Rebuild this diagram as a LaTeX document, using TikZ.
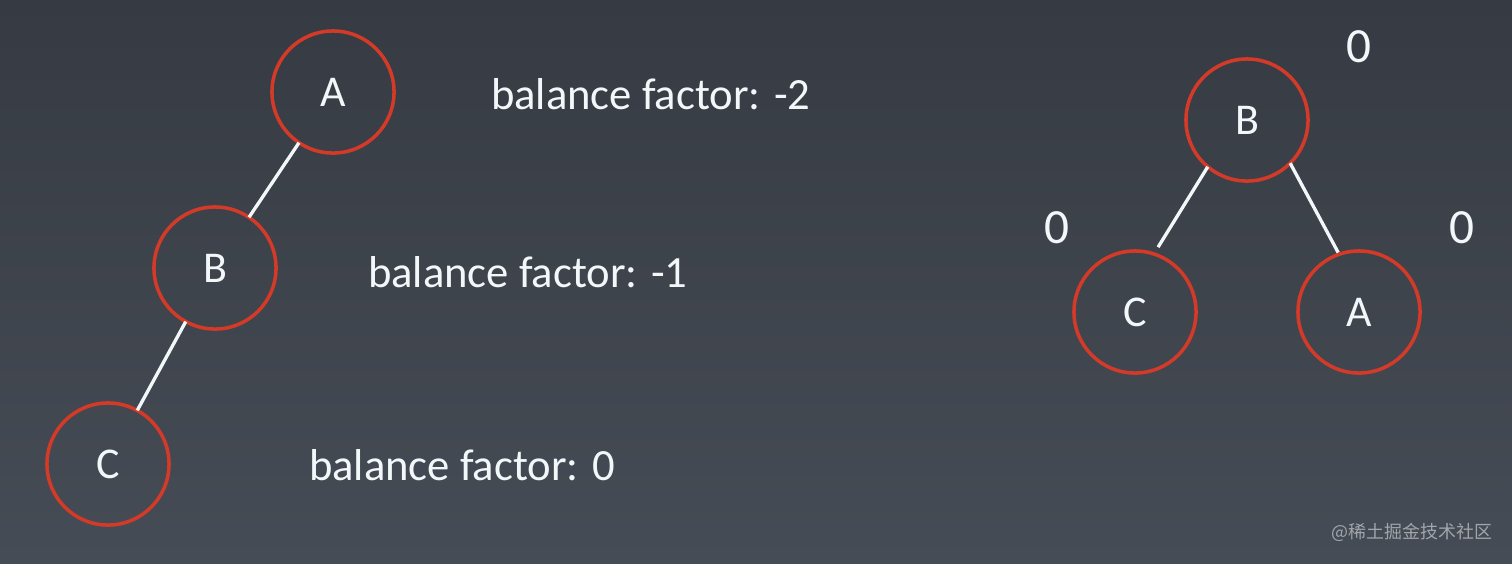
\documentclass[tikz,border=0pt]{standalone}
\usepackage{fontspec}
\setmainfont{Carlito}
\newfontfamily\cjk{Noto Sans CJK SC}
\definecolor{bgtop}{HTML}{363B43}
\definecolor{bgbot}{HTML}{464C55}
\definecolor{ringred}{HTML}{D43A28}
\definecolor{txt}{HTML}{F2F7FA}
\begin{document}
\begin{tikzpicture}[x=0.01cm,y=-0.01cm,outer sep=0pt,inner sep=0pt,
    vertex/.style={circle,draw=ringred,line width=1pt,minimum size=1.22cm,text=txt,font=\fontsize{12.5}{14}\selectfont},
    edge/.style={draw=txt,line width=0.95pt},
    bf/.style={anchor=base west,text=txt,font=\fontsize{12.7}{15}\selectfont},
    zero/.style={text=txt,font=\fontsize{14}{16}\selectfont}]
    \fill[top color=bgtop,bottom color=bgbot] (0,0) rectangle (1512,563);
    \useasboundingbox (0,0) rectangle (1512,563);
    % left: chain A - B - C
    \foreach \n/\x/\y in {A/333/92,B/215/268,C/108/464}
        \node[vertex] (l\n) at (\x,\y) {\n};
    \draw[edge] (lA) -- (lB);
    \draw[edge] (lB) -- (lC);
    \node[bf] (fA) at (491,109) {balance factor: -2};
    \node[bf] (fB) at (368,287) {balance factor: -1};
    \node[bf] (fC) at (309,480) {balance factor: 0};
    % right: balanced tree
    \node[vertex] (rB) at (1247,120) {B};
    \node[vertex] (rC) at (1135,312) {C};
    \node[vertex] (rA) at (1359,312) {A};
    \draw[edge,shorten >=0.08cm] (rB.230) -- (rC.72);
    \draw[edge,shorten >=0.02cm] (rB.315) -- (rA.109);
    \node[zero] (zB) at (1359,47) {0};
    \node[zero] (zC) at (1057,228) {0};
    \node[zero] (zA) at (1462,228) {0};
    \node[text=white!50!bgbot,font=\cjk\fontsize{5.1}{6}\selectfont,anchor=east] (mark) at (1492,532) {@稀土掘金技术社区};
\end{tikzpicture}
\end{document}
